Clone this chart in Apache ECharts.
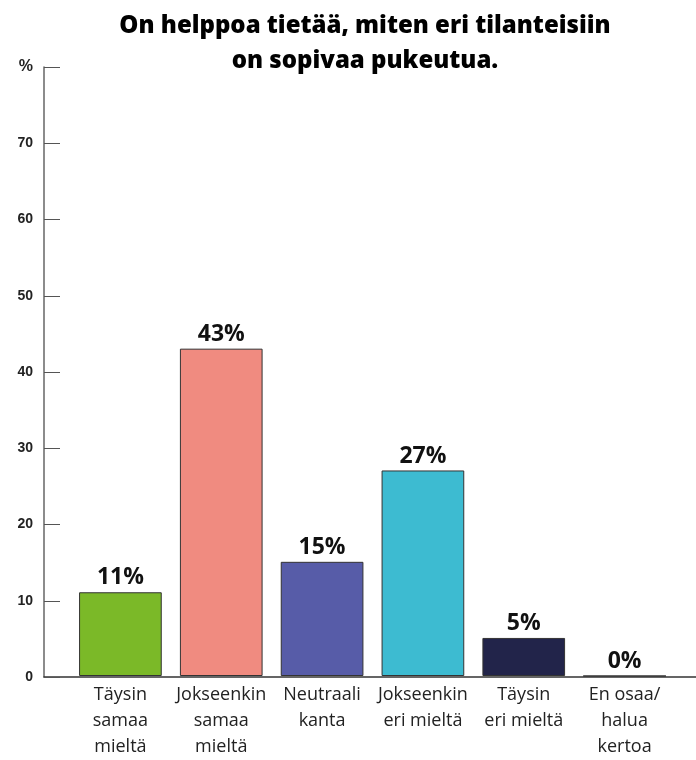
<!DOCTYPE html>
<html>
<head>
<meta charset="utf-8">
<script src="https://cdn.jsdelivr.net/npm/echarts@6/dist/echarts.min.js"></script>
<style>html,body{margin:0;padding:0;background:#fff}#c{width:696px;height:760px}</style>
</head>
<body>
<div id="c"></div>
<script>
const categories = ["Täysin\nsamaa\nmieltä", "Jokseenkin\nsamaa\nmieltä", "Neutraali\nkanta", "Jokseenkin\neri mieltä", "Täysin\neri mieltä", "En osaa/\nhalua\nkertoa"];
const values = [11, 43, 15, 27, 5, 0];
const colors = ["#7bb928", "#f08b80", "#575ca8", "#3dbbd1", "#22244a", "#ffffff"];
const yMax = 80;
const yInterval = 10;

const chart = echarts.init(document.getElementById('c'));
chart.setOption({
  animation: false,
  backgroundColor: '#fff',
  title: {
    text: 'On helppoa tietää, miten eri tilanteisiin\non sopivaa pukeutua.',
    left: 360, top: 4, textAlign: 'center',
    textStyle: {fontFamily: 'Open Sans', fontWeight: 800, fontSize: 24, lineHeight: 35, color: '#000'}
  },
  grid: [
    {left: 44, right: 0, top: 67, bottom: 83},
    {left: 70, right: 21, top: 67, bottom: 83}
  ],
  xAxis: [
    {gridIndex: 0, type: 'value', min: 0, max: 1, axisLine: {show: true, lineStyle: {color: '#333', width: 1.5}}, axisTick: {show: false}, axisLabel: {show: false}, splitLine: {show: false}},
    {gridIndex: 1, type: 'category', data: categories, axisLine: {show: false}, axisTick: {show: false},
     axisLabel: {interval: 0, margin: 6, fontFamily: 'Open Sans', fontSize: 18, lineHeight: 26, color: '#222'}}
  ],
  yAxis: [
    {gridIndex: 0, type: 'value', min: 0, max: yMax, interval: yInterval,
     axisLine: {show: true, lineStyle: {color: '#666', width: 1.5}},
     axisTick: {show: true, inside: true, length: 16, lineStyle: {color: '#555', width: 1}},
     axisLabel: {margin: 11, fontFamily: 'Liberation Sans', fontWeight: 'bold', fontSize: 14, color: '#222',
                 formatter: v => v === yMax ? '{p|%}' : String(v),
                 rich: {p: {fontFamily: 'Liberation Sans', fontWeight: 'bold', fontSize: 16, color: '#222'}}},
     splitLine: {show: false}},
    {gridIndex: 1, type: 'value', min: 0, max: yMax, show: false, splitLine: {show: false}}
  ],
  series: [{
    type: 'bar', xAxisIndex: 1, yAxisIndex: 1, barWidth: '82%',
    data: values.map((v, i) => ({value: v, itemStyle: {color: colors[i]}})),
    itemStyle: {borderColor: '#333', borderWidth: 1},
    label: {show: true, position: 'top', distance: 3, formatter: '{c}%', fontFamily: 'Open Sans', fontWeight: 700, fontSize: 23, color: '#111'}
  }]
});
</script>
</body>
</html>
